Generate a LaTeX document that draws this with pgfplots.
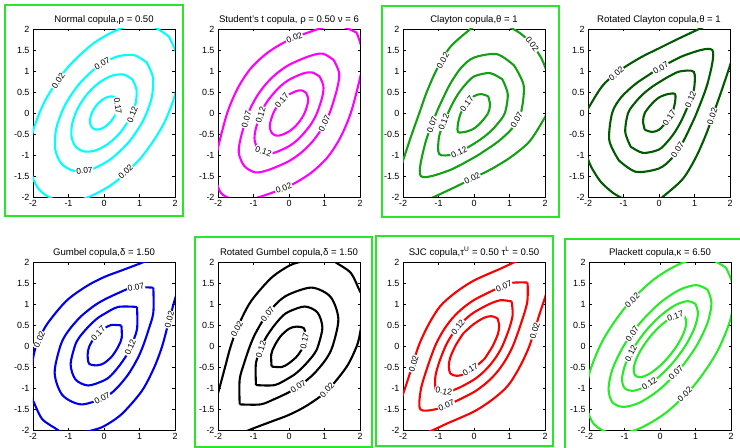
\documentclass[border=0pt]{standalone}
\usepackage{fontspec}
\setmainfont{Liberation Sans}
\usepackage{pgfplots}
\pgfplotsset{compat=1.18}
\definecolor{ccyan}{RGB}{0,255,255}
\definecolor{cmag}{RGB}{255,0,255}
\definecolor{cgreen}{RGB}{20,160,20}
\definecolor{cdgreen}{RGB}{0,90,0}
\definecolor{cblue}{RGB}{0,0,240}
\definecolor{cred}{RGB}{250,0,0}
\definecolor{clgreen}{RGB}{40,235,40}
\definecolor{frame}{RGB}{40,230,40}
\newcommand{\fs}{\fontsize{8.5}{10}\selectfont}
\newcommand{\ft}{\fontsize{9}{10}\selectfont}
\newcommand{\fti}{\fontsize{9.6}{11}\selectfont}
\pgfplotsset{
  cop/.style={
    scale only axis, width=142bp, height=168bp,
    xmin=-2,xmax=2,ymin=-2,ymax=2,
    xtick={-2,-1,0,1,2}, ytick={-2,-1.5,-1,-0.5,0,0.5,1,1.5,2},
    tick align=inside, major tick length=2.5bp,
    tick label style={font=\ft},
    /pgf/number format/assume math mode=true,
    title style={font=\fti, at={(0.5,1)}, anchor=south, yshift=-5bp},
    axis line style={line width=0.6bp},
    every tick/.style={line width=0.5bp, black},
    anchor=north west,
  },
  ln/.style={line width=2.1bp, smooth, no markers},
}
\newcommand{\lab}[4]{\node[font=\fs, fill=white, inner sep=0.8pt, rotate=#3] at (axis cs:#1,#2) {#4};}
\begin{document}
\begin{tikzpicture}
\useasboundingbox (0bp,0bp) rectangle (740bp,-448bp);

% 1 Normal
\begin{axis}[cop, at={(33bp,-29bp)}, title={Normal copula,ρ = 0.50}]
\addplot[ln, ccyan] coordinates {(.342,.342) (.392,.240) (.382,.102) (.313,-.052) (.198,-.198) (.052,-.313) (-.102,-.382) (-.240,-.392) (-.342,-.342) (-.392,-.240) (-.382,-.102) (-.313,.052) (-.198,.198) (-.052,.313) (.102,.382) (.240,.392) (.342,.342)};
\addplot[ln, ccyan] coordinates {(.799,.799) (.915,.562) (.892,.239) (.732,-.121) (.462,-.462) (.121,-.732) (-.239,-.892) (-.562,-.915) (-.799,-.799) (-.915,-.562) (-.892,-.239) (-.732,.121) (-.462,.462) (-.121,.732) (.239,.892) (.562,.915) (.799,.799)};
\addplot[ln, ccyan] coordinates {(1.203,1.203) (1.378,.846) (1.342,.360) (1.102,-.181) (.695,-.695) (.181,-1.102) (-.360,-1.342) (-.846,-1.378) (-1.203,-1.203) (-1.378,-.846) (-1.342,-.360) (-1.102,.181) (-.695,.695) (-.181,1.102) (.360,1.342) (.846,1.378) (1.203,1.203)};
\addplot[ln, ccyan] coordinates {(1.824,1.824) (2.088,1.282) (2.035,.545) (1.671,-.275) (1.053,-1.053) (.275,-1.671) (-.545,-2.035) (-1.282,-2.088) (-1.824,-1.824) (-2.088,-1.282) (-2.035,-.545) (-1.671,.275) (-1.053,1.053) (-.275,1.671) (.545,2.035) (1.282,2.088) (1.824,1.824)};
\lab{-1.29}{0.76}{56}{0.02}
\lab{-0.05}{1.17}{30}{0.07}
\lab{0.39}{0.17}{-82}{0.17}
\lab{0.80}{-0.04}{70}{0.12}
\lab{-0.55}{-1.37}{5}{0.07}
\lab{0.61}{-1.40}{43}{0.02}
\end{axis}

% 2 Student t
\begin{axis}[cop, at={(218bp,-29bp)}, title={Student's t copula, ρ = 0.50  ν = 6}]
\addplot[ln, cmag] coordinates {(.48,.48) (.359,.538) (.217,.525) (0,.44) (-.143,.345) (-.25,.25) (-.345,.143) (-.44,0) (-.525,-.217) (-.538,-.359) (-.48,-.48) (-.359,-.538) (-.217,-.525) (0,-.44) (.143,-.345) (.25,-.25) (.345,-.143) (.44,0) (.525,.217) (.538,.359) (.48,.48)};
\addplot[ln, cmag] coordinates {(.865,.865) (.647,.968) (.39,.94) (0,.79) (-.259,.625) (-.45,.45) (-.625,.259) (-.79,0) (-.94,-.39) (-.968,-.647) (-.865,-.865) (-.647,-.968) (-.39,-.94) (0,-.79) (.259,-.625) (.45,-.45) (.625,-.259) (.79,0) (.94,.39) (.968,.647) (.865,.865)};
\addplot[ln, cmag] coordinates {(1.26,1.26) (.9455,1.415) (.56,1.35) (0,1.145) (-.38,.918) (-.67,.67) (-.918,.38) (-1.145,0) (-1.35,-.56) (-1.415,-.9455) (-1.26,-1.26) (-.9455,-1.415) (-.56,-1.35) (0,-1.145) (.38,-.918) (.67,-.67) (.918,-.38) (1.145,0) (1.35,.56) (1.415,.9455) (1.26,1.26)};
\addplot[ln, cmag] coordinates {(1.91,1.91) (1.35,2.1) (.83,2.0) (0,1.74) (-.596,1.44) (-1.07,1.07) (-1.44,.596) (-1.74,0) (-2.0,-.83) (-2.1,-1.35) (-1.91,-1.91) (-1.35,-2.1) (-.83,-2.0) (0,-1.74) (.596,-1.44) (1.07,-1.07) (1.44,-.596) (1.74,0) (2.0,.83) (2.1,1.35) (1.91,1.91)};
\lab{0.15}{1.79}{22}{0.02}
\lab{-0.2}{0.3}{50}{0.17}
\lab{-0.8}{-0.05}{72}{0.12}
\lab{-1.2}{-0.15}{73}{0.07}
\lab{-0.72}{-0.92}{-20}{0.12}
\lab{1.0}{-0.25}{63}{0.07}
\lab{-0.15}{-1.79}{22}{0.02}
\end{axis}

% 3 Clayton
\begin{axis}[cop, at={(403bp,-29bp)}, title={Clayton copula,θ = 1}]
\addplot[ln, cgreen] coordinates {(.4,.4) (.2,.45) (0,.4) (-.21,.21) (-.37,0) (-.45,-.25) (-.45,-.45) (-.25,-.45) (0,-.37) (.21,-.21) (.4,0) (.45,.2) (.4,.4)};
\addplot[ln, cgreen] coordinates {(.8,.8) (.45,.95) (0,.87) (-.26,.66) (-.45,.45) (-.62,.2) (-.73,0) (-.88,-.3) (-.99,-.59) (-.98,-.98) (-.59,-.99) (-.3,-.88) (0,-.73) (.2,-.62) (.45,-.45) (.66,-.26) (.87,0) (.95,.45) (.8,.8)};
\addplot[ln, cgreen] coordinates {(1.13,1.13) (.65,1.4) (0,1.32) (-.37,1.07) (-.68,.68) (-.9,.3) (-1.06,0) (-1.38,-.74) (-1.5,-1.5) (-.74,-1.38) (0,-1.06) (.3,-.9) (.68,-.68) (1.07,-.37) (1.32,0) (1.4,.65) (1.13,1.13)};
\addplot[ln, cgreen] coordinates {(-2.12,-1.45) (-2,-1.13) (-1.75,-.5) (-1.54,0) (-1.33,.5) (-1.045,1.045) (-.67,1.57) (-.1,2) (.3,2.25)};
\addplot[ln, cgreen] coordinates {(-1.45,-2.12) (-1.13,-2) (-.5,-1.75) (0,-1.54) (.5,-1.33) (1.045,-1.045) (1.57,-.67) (2,-.1) (2.25,.3)};
\addplot[ln, cgreen] coordinates {(.9,2.1) (1.1,2) (1.3,1.9) (1.64,1.64) (1.9,1.3) (2,1.1) (2.1,.9)};
\lab{-0.88}{1.25}{59}{0.02}
\lab{1.64}{1.64}{-55}{0.02}
\lab{-1.18}{-0.28}{70}{0.07}
\lab{-0.85}{-0.22}{70}{0.12}
\lab{-0.2}{0.22}{52}{0.17}
\lab{-0.42}{-0.93}{26}{0.12}
\lab{1.2}{-0.16}{60}{0.07}
\lab{-0.05}{-1.56}{27}{0.02}
\end{axis}

% 4 Rotated Clayton
\begin{axis}[cop, at={(588bp,-29bp)}, title={Rotated Clayton copula,θ = 1}]
\addplot[ln, cdgreen] coordinates {(-.4,-.4) (-.2,-.45) (0,-.4) (.21,-.21) (.37,0) (.45,.25) (.45,.45) (.25,.45) (0,.37) (-.21,.21) (-.4,0) (-.45,-.2) (-.4,-.4)};
\addplot[ln, cdgreen] coordinates {(-.8,-.8) (-.45,-.95) (0,-.87) (.26,-.66) (.45,-.45) (.62,-.2) (.73,0) (.88,.3) (.99,.59) (.98,.98) (.59,.99) (.3,.88) (0,.73) (-.2,.62) (-.45,.45) (-.66,.26) (-.87,0) (-.95,-.45) (-.8,-.8)};
\addplot[ln, cdgreen] coordinates {(-1.13,-1.13) (-.65,-1.4) (0,-1.32) (.37,-1.07) (.68,-.68) (.9,-.3) (1.06,0) (1.38,.74) (1.5,1.5) (.74,1.38) (0,1.06) (-.3,.9) (-.68,.68) (-1.07,.37) (-1.32,0) (-1.4,-.65) (-1.13,-1.13)};
\addplot[ln, cdgreen] coordinates {(2.12,1.45) (2,1.13) (1.75,.5) (1.54,0) (1.33,-.5) (1.045,-1.045) (.67,-1.57) (.1,-2) (-.3,-2.25)};
\addplot[ln, cdgreen] coordinates {(1.45,2.12) (1.13,2) (.5,1.75) (0,1.54) (-.5,1.33) (-1.045,1.045) (-1.57,.67) (-2,.1) (-2.25,-.3)};
\addplot[ln, cdgreen] coordinates {(-.9,-2.1) (-1.1,-2) (-1.3,-1.9) (-1.64,-1.64) (-1.9,-1.3) (-2,-1.1) (-2.1,-.9)};
\lab{-1.2}{0.94}{40}{0.02}
\lab{0.05}{1.07}{32}{0.07}
\lab{0.89}{0.32}{67}{0.12}
\lab{0.29}{-0.11}{55}{0.17}
\lab{0.52}{-0.88}{56}{0.07}
\lab{1.5}{-0.08}{71}{0.02}
\end{axis}

% 5 Gumbel
\begin{axis}[cop, at={(33bp,-262bp)}, title={Gumbel copula,δ = 1.50}]
\addplot[ln, cblue] coordinates {(.49,.49) (.2,.5) (0,.41) (-.235,.235) (-.41,0) (-.46,-.2) (-.42,-.42) (-.2,-.46) (0,-.41) (.235,-.235) (.41,0) (.5,.2) (.49,.49)};
\addplot[ln, cblue] coordinates {(.93,.93) (.4,.93) (0,.76) (-.2,.65) (-.45,.45) (-.7,.2) (-.82,0) (-.94,-.445) (-.8,-.8) (-.445,-.94) (0,-.82) (.2,-.7) (.45,-.45) (.65,-.2) (.76,0) (.93,.4) (.93,.93)};
\addplot[ln, cblue] coordinates {(1.39,1.39) (.8,1.39) (.4,1.26) (0,1.1) (-.3,.945) (-.68,.68) (-1.03,.33) (-1.23,0) (-1.39,-.645) (-1.17,-1.17) (-.645,-1.39) (0,-1.23) (.33,-1.03) (.68,-.68) (.945,-.3) (1.1,0) (1.26,.4) (1.39,.8) (1.39,1.39)};
\addplot[ln, cblue] coordinates {(-2.05,-.55) (-2,-.3) (-1.91,0) (-1.62,.5) (-1.068,1.068) (-.5,1.42) (0,1.64) (.5,1.8) (1.12,2) (1.5,2.15)};
\addplot[ln, cblue] coordinates {(-.55,-2.05) (-.3,-2) (0,-1.91) (.5,-1.62) (1.068,-1.068) (1.42,-.5) (1.64,0) (1.8,.5) (2,1.12) (2.15,1.5)};
\addplot[ln, cblue] coordinates {(-2.1,-1.2) (-2,-1.3) (-1.74,-1.74) (-1.3,-2) (-1.2,-2.1)};
\lab{-1.82}{0.15}{66}{0.02}
\lab{0.9}{1.4}{12}{0.07}
\lab{-0.16}{0.3}{48}{0.17}
\lab{0.74}{-0.03}{68}{0.12}
\lab{1.84}{0.63}{75}{0.02}
\lab{-0.05}{-1.25}{28}{0.07}
\end{axis}

% 6 Rotated Gumbel
\begin{axis}[cop, at={(218bp,-262bp)}, title={Rotated Gumbel copula,δ = 1.50}]
\addplot[ln, black] coordinates {(-.49,-.49) (-.2,-.5) (0,-.41) (.235,-.235) (.41,0) (.46,.2) (.42,.42) (.2,.46) (0,.41) (-.235,.235) (-.41,0) (-.5,-.2) (-.49,-.49)};
\addplot[ln, black] coordinates {(-.93,-.93) (-.4,-.93) (0,-.76) (.2,-.65) (.45,-.45) (.7,-.2) (.82,0) (.94,.445) (.8,.8) (.445,.94) (0,.82) (-.2,.7) (-.45,.45) (-.65,.2) (-.76,0) (-.93,-.4) (-.93,-.93)};
\addplot[ln, black] coordinates {(-1.39,-1.39) (-.8,-1.39) (-.4,-1.26) (0,-1.1) (.3,-.945) (.68,-.68) (1.03,-.33) (1.23,0) (1.39,.645) (1.17,1.17) (.645,1.39) (0,1.23) (-.33,1.03) (-.68,.68) (-.945,.3) (-1.1,0) (-1.26,-.4) (-1.39,-.8) (-1.39,-1.39)};
\addplot[ln, black] coordinates {(2.05,.55) (2,.3) (1.91,0) (1.62,-.5) (1.068,-1.068) (.5,-1.42) (0,-1.64) (-.5,-1.8) (-1.12,-2) (-1.5,-2.15)};
\addplot[ln, black] coordinates {(.55,2.05) (.3,2) (0,1.91) (-.5,1.62) (-1.068,1.068) (-1.42,.5) (-1.64,0) (-1.8,-.5) (-2,-1.12) (-2.15,-1.5)};
\addplot[ln, black] coordinates {(2.1,1.2) (2,1.3) (1.74,1.74) (1.3,2) (1.2,2.1)};
\lab{-1.47}{0.4}{62}{0.02}
\lab{-0.6}{0.76}{52}{0.07}
\lab{-0.79}{-0.08}{72}{0.12}
\lab{0.44}{0.12}{78}{0.17}
\lab{0.26}{-0.97}{35}{0.07}
\lab{1.07}{-1.05}{48}{0.02}
\end{axis}

% 7 SJC
\begin{axis}[cop, at={(403bp,-262bp)}, title={SJC copula,τ\textsuperscript{U} = 0.50  τ\textsuperscript{L} = 0.50}]
\addplot[ln, cred] coordinates {(.66,.66) (.485,.71) (.277,.67) (0,.527) (-.168,.405) (-.30,.30) (-.405,.168) (-.527,0) (-.67,-.277) (-.71,-.485) (-.66,-.66) (-.485,-.71) (-.277,-.67) (0,-.527) (.168,-.405) (.30,-.30) (.405,-.168) (.527,0) (.67,.277) (.71,.485) (.66,.66)};
\addplot[ln, cred] coordinates {(1.06,1.06) (.745,1.09) (.41,.99) (0,.80) (-.259,.625) (-.452,.452) (-.625,.259) (-.80,0) (-.99,-.41) (-1.09,-.745) (-1.06,-1.06) (-.745,-1.09) (-.41,-.99) (0,-.80) (.259,-.625) (.452,-.452) (.625,-.259) (.80,0) (.99,.41) (1.09,.745) (1.06,1.06)};
\addplot[ln, cred] coordinates {(1.51,1.51) (1.05,1.5) (.55,1.33) (0,1.095) (-.36,.87) (-.635,.635) (-.87,.36) (-1.095,0) (-1.33,-.55) (-1.5,-1.05) (-1.51,-1.51) (-1.05,-1.5) (-.55,-1.33) (0,-1.095) (.36,-.87) (.635,-.635) (.87,-.36) (1.095,0) (1.33,.55) (1.5,1.05) (1.51,1.51)};
\addplot[ln, cred] coordinates {(-2.1,-1.45) (-2,-1.15) (-1.85,-.77) (-1.56,0) (-1.27,.526) (-.95,.95) (-.526,1.27) (0,1.56) (.77,1.85) (1.15,2) (1.45,2.1)};
\addplot[ln, cred] coordinates {(-1.45,-2.1) (-1.15,-2) (-.77,-1.85) (0,-1.56) (.526,-1.27) (.95,-.95) (1.27,-.526) (1.56,0) (1.85,.77) (2,1.15) (2.1,1.45)};
\lab{-1.7}{-0.42}{73}{0.02}
\lab{-0.45}{0.45}{52}{0.12}
\lab{0.84}{1.42}{22}{0.07}
\lab{-0.1}{-0.56}{31}{0.17}
\lab{-0.85}{-1.08}{-10}{0.12}
\lab{-0.78}{-1.41}{22}{0.07}
\lab{1.71}{0.36}{73}{0.02}
\end{axis}

% 8 Plackett
\begin{axis}[cop, at={(589bp,-262bp)}, title={Plackett copula,κ = 6.50}]
\addplot[ln, clgreen] coordinates {(.7,.7) (.742,.551) (.672,.318) (.499,.037) (.25,-.25) (-.037,-.499) (-.318,-.672) (-.551,-.742) (-.7,-.7) (-.742,-.551) (-.672,-.318) (-.499,-.037) (-.25,.25) (.037,.499) (.318,.672) (.551,.742) (.7,.7)};
\addplot[ln, clgreen] coordinates {(1,1) (1.069,.779) (.976,.438) (.734,.032) (.38,-.38) (-.032,-.734) (-.438,-.976) (-.779,-1.069) (-1,-1) (-1.069,-.779) (-.976,-.438) (-.734,-.032) (-.38,.38) (.032,.734) (.438,.976) (.779,1.069) (1,1)};
\addplot[ln, clgreen] coordinates {(1.34,1.34) (1.45,1.026) (1.34,.555) (1.026,0) (.555,-.555) (0,-1.026) (-.555,-1.34) (-1.026,-1.45) (-1.34,-1.34) (-1.45,-1.026) (-1.34,-.555) (-1.026,0) (-.555,.555) (0,1.026) (.555,1.34) (1.026,1.45) (1.34,1.34)};
\addplot[ln, clgreen] coordinates {(1.86,1.86) (2.082,1.355) (1.987,.644) (1.590,-.166) (.95,-.95) (.166,-1.590) (-.644,-1.987) (-1.355,-2.082) (-1.86,-1.86) (-2.082,-1.355) (-1.987,-.644) (-1.590,.166) (-.95,.95) (-.166,1.590) (.644,1.987) (1.355,2.082) (1.86,1.86)};
\lab{-0.78}{1.09}{44}{0.02}
\lab{0.43}{0.71}{18}{0.17}
\lab{-0.78}{0.29}{55}{0.07}
\lab{-0.82}{-0.18}{63}{0.12}
\lab{-0.3}{-0.9}{35}{0.12}
\lab{0.45}{-0.645}{45}{0.07}
\lab{0.7}{-1.15}{44}{0.02}
\end{axis}

% highlight frames
\begin{scope}[line width=2.8bp, draw=frame]
\draw (5bp,-5bp) rectangle (183bp,-216bp);
\draw (382bp,-6bp) rectangle (559bp,-217bp);
\draw (195bp,-237bp) rectangle (372bp,-447bp);
\draw (376bp,-236bp) rectangle (553bp,-446bp);
\draw (565bp,-239bp) rectangle (760bp,-470bp);
\end{scope}
\end{tikzpicture}
\end{document}
